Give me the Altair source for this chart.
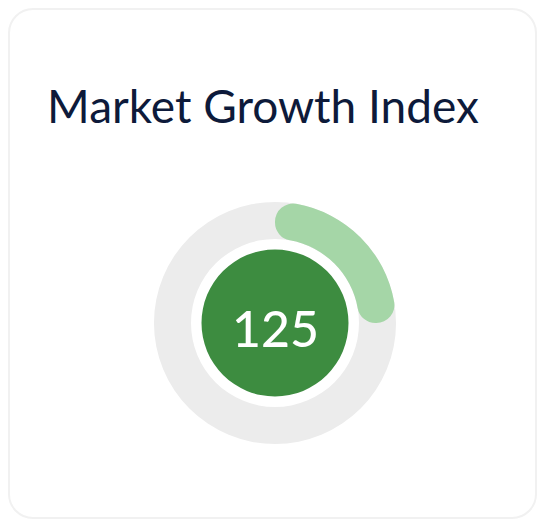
import altair as alt
import pandas as pd

# ---- data ----
TITLE = ["Market Growth Index"]
VALUE = [125]
MAX_VALUE = [500]
LABEL = ["125"]

df = pd.DataFrame({
    "zero": [0],
    "value": VALUE,
    "max": MAX_VALUE,
    "label": LABEL,
    "title": TITLE,
})

W, H = 529, 511
CX, CY = 267, 315

theta_scale = alt.Scale(domain=[0, MAX_VALUE[0]], range=[0, 6.283185307])

base = alt.Chart(df)

card = base.mark_rect(
    fill="white", stroke="#f1f1f1", strokeWidth=2, cornerRadius=24
).encode(
    x=alt.value(1), x2=alt.value(W - 1), y=alt.value(1), y2=alt.value(H - 1)
)

track = base.mark_arc(radius=121, radius2=84, color="#ececec").encode(
    theta=alt.Theta("zero:Q", scale=theta_scale),
    theta2="max:Q",
    x=alt.value(CX), y=alt.value(CY),
)

progress = base.mark_arc(radius=121, radius2=84, color="#a5d6a7", cornerRadius=18).encode(
    theta=alt.Theta("zero:Q", scale=theta_scale),
    theta2="value:Q",
    x=alt.value(CX), y=alt.value(CY),
)

core = base.mark_arc(radius=73.5, radius2=0, color="#3d8c40").encode(
    theta=alt.Theta("zero:Q", scale=theta_scale),
    theta2="max:Q",
    x=alt.value(CX), y=alt.value(CY),
)

number = base.mark_text(
    font="Lato", fontSize=50, fontWeight=500, color="white", align="center", baseline="alphabetic"
).encode(text="label:N", x=alt.value(CX + 0.5), y=alt.value(339))

title = base.mark_text(
    font="Lato", fontSize=46, color="#0d1a3a", align="center", baseline="alphabetic"
).encode(text="title:N", x=alt.value(255), y=alt.value(115))

chart = alt.layer(card, track, progress, core, number, title).properties(
    width=W, height=H, padding=0,
    autosize=alt.AutoSizeParams(type="fit", contains="padding"),
).configure_view(stroke=None)

chart.save("out.html", embed_options={"renderer": "svg", "actions": False})
